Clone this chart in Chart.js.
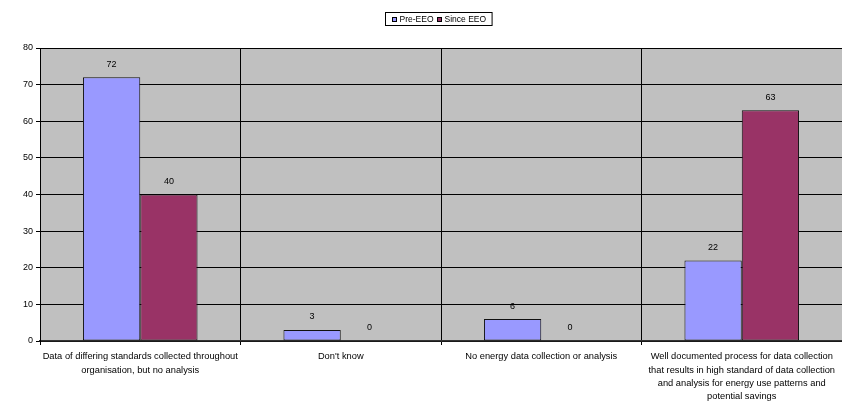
<!DOCTYPE html>
<html>
<head>
<meta charset="utf-8">
<script src="https://cdn.jsdelivr.net/npm/chart.js@4.4.1/dist/chart.umd.min.js"></script>
<style>
html,body{margin:0;padding:0;background:#fff;}
#wrap{width:842px;height:404px;}
</style>
</head>
<body>
<div id="wrap"><canvas id="c" width="842" height="404"></canvas></div>
<script>
const categories = [
  ["Data of differing standards collected throughout", "organisation, but no analysis"],
  ["Don't know"],
  ["No energy data collection or analysis"],
  ["Well documented process for data collection", "that results in high standard of data collection", "and analysis for energy use patterns and", "potential savings"]
];
const seriesNames = ["Pre-EEO", "Since EEO"];
const preEEO = [72, 3, 6, 22];
const sinceEEO = [40, 0, 0, 63];
const yTicks = [0, 10, 20, 30, 40, 50, 60, 70, 80];

const FONT = "'Liberation Sans', Arial, sans-serif";

const plotBg = {
  id: 'plotBg',
  beforeDraw(chart) {
    const {ctx, chartArea: a} = chart;
    ctx.save();
    ctx.fillStyle = '#C0C0C0';
    ctx.fillRect(a.left, a.top, a.right - a.left, a.bottom - a.top);
    ctx.restore();
  }
};

const valueLabels = {
  id: 'valueLabels',
  afterDatasetsDraw(chart) {
    const ctx = chart.ctx;
    ctx.save();
    ctx.font = "9px " + FONT;
    ctx.fillStyle = '#000';
    ctx.textAlign = 'center';
    ctx.textBaseline = 'middle';
    chart.data.datasets.forEach((ds, di) => {
      const meta = chart.getDatasetMeta(di);
      meta.data.forEach((bar, i) => {
        ctx.fillText(String(ds.data[i]), bar.x, bar.y - 13);
      });
    });
    ctx.restore();
  }
};

const boxLegend = {
  id: 'boxLegend',
  afterDraw(chart) {
    const ctx = chart.ctx;
    ctx.save();
    ctx.font = "8.5px " + FONT;
    ctx.textBaseline = 'middle';
    const sq = 5, gapSq = 3, gapItem = 3;
    const widths = chart.data.datasets.map(d => sq + gapSq + ctx.measureText(d.label).width);
    const inner = widths.reduce((a, b) => a + b, 0) + gapItem * (widths.length - 1);
    const padX = 6;
    const w = inner + padX * 2;
    const cx = 438;
    const left = Math.round(cx - w / 2) + 0.5;
    const top = 12.5, h = 13;
    ctx.fillStyle = '#fff';
    ctx.fillRect(left, top, w, h);
    ctx.strokeStyle = '#000';
    ctx.lineWidth = 1;
    ctx.strokeRect(left, top, w, h);
    let x = left + padX;
    const cy = top + h / 2;
    chart.data.datasets.forEach((d, i) => {
      ctx.fillStyle = d.backgroundColor;
      ctx.fillRect(Math.round(x), Math.round(cy - sq / 2), sq, sq);
      ctx.strokeStyle = '#000';
      ctx.strokeRect(Math.round(x) + 0.5, Math.round(cy - sq / 2) + 0.5, sq - 1, sq - 1);
      ctx.fillStyle = '#000';
      ctx.fillText(d.label, x + sq + gapSq, cy + 0.5);
      x += widths[i] + gapItem;
    });
    ctx.restore();
  }
};

new Chart(document.getElementById('c'), {
  type: 'bar',
  data: {
    labels: categories,
    datasets: [
      { label: seriesNames[0], data: preEEO, backgroundColor: '#9999FF', borderColor: '#111', borderWidth: 1, borderSkipped: false },
      { label: seriesNames[1], data: sinceEEO, backgroundColor: '#993366', borderColor: '#111', borderWidth: 1, borderSkipped: false }
    ]
  },
  options: {
    responsive: false,
    animation: false,
    devicePixelRatio: 1,
    layout: { padding: { top: 48, right: 0, left: 0, bottom: 0 } },
    datasets: { bar: { categoryPercentage: 2 / 3.5, barPercentage: 1 } },
    plugins: {
      legend: { display: false },
      tooltip: { enabled: false }
    },
    scales: {
      x: {
        offset: true,
        grid: { display: true, offset: true, color: '#000', lineWidth: 1, drawTicks: true, tickLength: 4, tickColor: '#000' },
        border: { display: true, color: '#333', width: 1.5 },
        ticks: { color: '#000', font: { family: FONT, size: 9.3, lineHeight: 1.44 }, padding: 5, maxRotation: 0, minRotation: 0, autoSkip: false },
        afterFit(scale) { scale.height = 63; }
      },
      y: {
        min: 0, max: 80,
        afterBuildTicks(scale) { scale.ticks = yTicks.map(v => ({ value: v })); },
        grid: { color: '#000', lineWidth: 1, drawTicks: true, tickLength: 4, tickColor: '#000' },
        border: { display: true, color: '#000', width: 1 },
        ticks: { color: '#000', font: { family: FONT, size: 9 }, padding: 3 },
        afterFit(scale) { scale.width = 40; }
      }
    }
  },
  plugins: [plotBg, valueLabels, boxLegend]
});
</script>
</body>
</html>
